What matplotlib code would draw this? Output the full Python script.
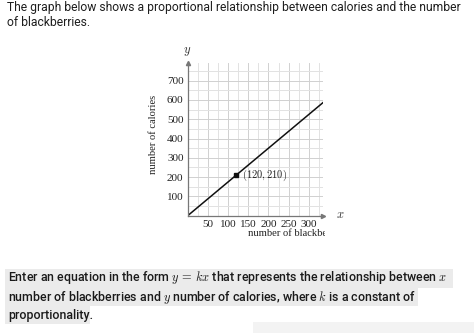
import matplotlib
matplotlib.use('Agg')
import matplotlib.pyplot as plt
from matplotlib.patches import Rectangle

# data
line_x = [0, 120, 340]
line_y = [0, 210, 595]
point_x = [120]
point_y = [210]
x_ticks = [50, 100, 150, 200, 250, 300]
y_ticks = [100, 200, 300, 400, 500, 600, 700]

title_lines = ['The graph below shows a proportional relationship between calories and the number',
               'of blackberries.']
question_lines = [r'Enter an equation in the form $y\,=\,kx$ that represents the relationship between $x$',
                  r'number of blackberries and $y$ number of calories, where $k$ is a constant of',
                  'proportionality.']

plt.rcParams['mathtext.fontset'] = 'cm'
plt.rcParams['font.family'] = ['Roboto', 'DejaVu Sans']

W, H = 474, 333
fig = plt.figure(figsize=(W / 100, H / 100), dpi=100)


def fx(px):
    return px / W


def fy(py):
    return 1 - py / H


# highlight behind question text
hl = '#ebebeb'
fig.patches.append(Rectangle((fx(5), fy(288)), fx(448), 19 / H, transform=fig.transFigure,
                             facecolor=hl, edgecolor='none', zorder=0))
fig.patches.append(Rectangle((fx(5), fy(306)), fx(413), 18 / H, transform=fig.transFigure,
                             facecolor=hl, edgecolor='none', zorder=0))
fig.patches.append(Rectangle((fx(5), fy(324)), fx(85), 18 / H, transform=fig.transFigure,
                             facecolor=hl, edgecolor='none', zorder=0))
fig.patches.append(Rectangle((fx(253), 0), fx(221), 11 / H, transform=fig.transFigure,
                             facecolor='#f3f3f3', edgecolor='none', zorder=0))

# title
for i, s in enumerate(title_lines):
    fig.text(fx(7), fy(8 + 14.5 * i), s, fontsize=8.75, color='#1e1e1e', va='center', ha='left')

# question
for i, s in enumerate(question_lines):
    fig.text(fx(8), fy(278 + 19 * i), s, fontsize=8.9, color='#1a1a1a', va='center', ha='left',
             fontweight='medium')

# graph
ax = fig.add_axes([fx(187.7), fy(215.7), fx(135.3), 152.4 / H])
ax.set_xlim(0, 335)
ax.set_ylim(0, 790)
ax.set_xticks(x_ticks)
ax.set_yticks(y_ticks)
ax.set_xticks(range(25, 335, 25), minor=True)
ax.set_yticks(range(50, 790, 50), minor=True)
ax.grid(which='major', color='#d0d0d0', lw=0.7)
ax.grid(which='minor', color='#e2e2e2', lw=0.7)
ax.set_axisbelow(True)
ax.tick_params(which='both', length=0, labelsize=8, pad=3, labelcolor='#222222')
for lab in ax.get_xticklabels() + ax.get_yticklabels():
    lab.set_family('Liberation Serif')
for side in ['top', 'right']:
    ax.spines[side].set_visible(False)
for side in ['left', 'bottom']:
    ax.spines[side].set_color('#777777')
    ax.spines[side].set_linewidth(0.9)

ax.plot(1, 0, '>', color='#777777', ms=3, transform=ax.transAxes, clip_on=False)
ax.plot(0, 1, '^', color='#777777', ms=3, transform=ax.transAxes, clip_on=False)

ax.plot(line_x, line_y, color='#111111', lw=1.1)
ax.plot(point_x, point_y, 's', color='#111111', ms=3.5)
ax.annotate(r'$(120,210)$', (point_x[0], point_y[0]), xytext=(4.5, 0), textcoords='offset points',
            fontsize=7.5, va='center', ha='left', color='#222222')

# axis labels
fig.text(fx(186.7), fy(51), r'$y$', fontsize=9, ha='center', va='center', color='#333333')
fig.text(fx(340), fy(214), r'$x$', fontsize=9, ha='center', va='center', color='#333333')
fig.text(fx(153), fy(134), 'number of calories', rotation=90, fontsize=7.6,
         family='Liberation Serif', ha='center', va='center', color='#222222')
xl = fig.text(fx(248), fy(233), 'number of blackberries', fontsize=7.6,
              family='Liberation Serif', ha='left', va='center', color='#222222', clip_on=True)
xl.set_clip_path(Rectangle((fx(240), fy(240)), fx(84.5), 14 / H, transform=fig.transFigure))

fig.savefig('out.png', dpi=100)
